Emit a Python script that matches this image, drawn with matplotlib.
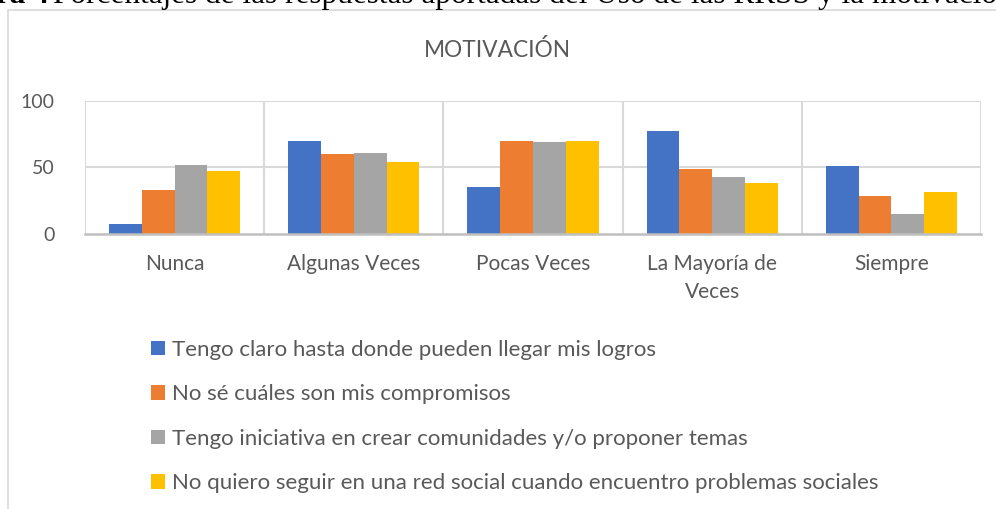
import matplotlib
matplotlib.use("Agg")
import matplotlib.pyplot as plt
from matplotlib.patches import Rectangle, Patch
import numpy as np

categories = ["Nunca", "Algunas Veces", "Pocas Veces", "La Mayoría de\nVeces", "Siempre"]
series_names = [
    "Tengo claro hasta donde pueden llegar mis logros",
    "No sé cuáles son mis compromisos",
    "Tengo iniciativa en crear comunidades y/o proponer temas",
    "No quiero seguir en una red social cuando encuentro problemas sociales",
]
s1 = [7, 70, 35, 77, 51]
s2 = [33, 60, 70, 49, 28]
s3 = [52, 61, 69, 43, 15]
s4 = [47, 54, 70, 38, 31]
series = [s1, s2, s3, s4]
colors = ["#4472C4", "#ED7D31", "#A5A5A5", "#FFC000"]
yticks = [0, 50, 100]

FONT = "Lato"
TXT = "#595959"

fig = plt.figure(figsize=(9.96, 5.09), dpi=100)

# caption cut off at the top (as in the reference)
cap_y = 1 - 3/509
fig.text(49/996, cap_y, "Figura 4", fontfamily="Liberation Serif", fontweight="bold",
         fontsize=22.5, va="baseline", ha="right", color="black")
fig.text(53/996, cap_y,
         "Porcentajes de las respuestas aportadas del Uso de las RRSS y la motivación",
         fontfamily="Liberation Serif", fontsize=22.5, va="baseline", ha="left", color="black")

# chart frame
fig.patches.append(Rectangle((8/996, -0.05), 1.2, 1 - 10/509 + 0.05, transform=fig.transFigure,
                             fill=False, edgecolor="#d9d9d9", linewidth=1.2))

ax = fig.add_axes([85/996, 1 - 233.5/509, (981 - 85)/996, (233.5 - 101)/509])
n = len(categories)
x = np.arange(n)
w = 0.183
for i, (vals, c) in enumerate(zip(series, colors)):
    ax.bar(x + (i - 1.5) * w, vals, width=w, color=c, label=series_names[i], zorder=3)

ax.set_xlim(-0.5, n - 0.5)
ax.set_ylim(0, 100)
ax.set_yticks(yticks)
ax.set_yticklabels([str(v) for v in yticks], fontfamily=FONT, fontsize=14, color=TXT)
ax.set_xticks(x)
ax.set_xticklabels(categories, fontfamily=FONT, fontsize=15, color=TXT, linespacing=1.45)
ax.tick_params(axis="both", length=0)
ax.tick_params(axis="x", pad=15)
ax.tick_params(axis="y", pad=22)
for v in yticks[1:]:
    ax.axhline(v, color="#d9d9d9", linewidth=1.5, zorder=1)
for b in np.arange(n + 1) - 0.5:
    ax.axvline(b, color="#d9d9d9", linewidth=1.5, zorder=1)
for s in ["top", "right", "left"]:
    ax.spines[s].set_visible(False)
ax.spines["bottom"].set_color("#bfbfbf")
ax.spines["bottom"].set_linewidth(1.8)
ax.spines["bottom"].set_zorder(4)

fig.text(497/996, 1 - 50/509, "MOTIVACIÓN", fontfamily=FONT, fontsize=16.3, color=TXT,
         ha="center", va="center")

handles = [Patch(facecolor=c, edgecolor="none") for c in colors]
fig.legend(handles, series_names, loc="upper left", bbox_to_anchor=(151/996, 1 - 340/509),
           frameon=False, prop={"family": FONT, "size": 16}, labelcolor=TXT,
           handlelength=0.63, handleheight=0.63, handletextpad=0.3, labelspacing=1.1,
           borderaxespad=0, borderpad=0)

fig.savefig("out.png", dpi=100)
